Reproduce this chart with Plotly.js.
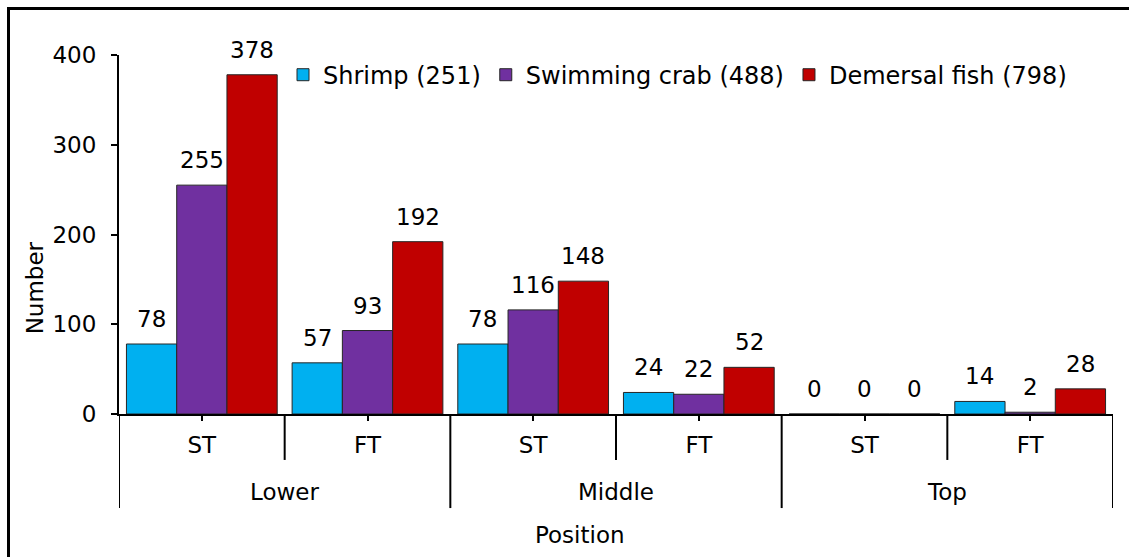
<!DOCTYPE html>
<html>
<head>
<meta charset="utf-8">
<script src="https://cdn.plot.ly/plotly-3.0.1.min.js"></script>
<style>
html,body{margin:0;padding:0;background:#fff;}
#chart{width:1129px;height:557px;}
#frame{position:absolute;left:7px;top:7px;width:1200px;height:600px;border:3px solid #000;pointer-events:none;}
</style>
</head>
<body>
<div id="chart"></div>
<div id="frame"></div>
<script>
const positions = ["Lower","Lower","Middle","Middle","Top","Top"];
const gears = ["ST","FT","ST","FT","ST","FT"];
const shrimp = [78,57,78,24,0,14];
const crab = [255,93,116,22,0,2];
const fish = [378,192,148,52,0,28];
const seriesNames = ["Shrimp (251)","Swimming crab (488)","Demersal fish (798)"];
const seriesColors = ["#00B0F0","#7030A0","#C00000"];
const yTicks = [0,100,200,300,400];
const xTitle = "Position";
const yTitle = "Number";

const FONT = "DejaVu Sans, Verdana, sans-serif";
const FS = 23;
const BARGAP = 0.09;
const idx = gears.map((_, k) => k);
const allVals = [shrimp, crab, fish];
const nSeries = allVals.length;
const barW = (1 - BARGAP) / nSeries;

const traces = allVals.map((vals, i) => ({
  type: "bar",
  name: seriesNames[i],
  x: idx,
  y: vals,
  marker: {color: seriesColors[i], line: {color: "#262626", width: 1}},
  hoverinfo: "skip"
}));

const annotations = [];
// value labels above each bar, placed through the axes
allVals.forEach((vals, i) => {
  const off = (i - (nSeries - 1) / 2) * barW;
  vals.forEach((v, k) => {
    annotations.push({xref: "x", yref: "y", x: k + off, y: v, text: String(v),
      showarrow: false, xanchor: "center", yanchor: "bottom", yshift: 10,
      font: {family: FONT, size: FS, color: "#000"}});
  });
});

// outer category labels and dividers
const shapes = [];
const groups = [];
positions.forEach((p, k) => {
  if (!groups.length || groups[groups.length - 1].name !== p) groups.push({name: p, start: k, end: k});
  else groups[groups.length - 1].end = k;
});
groups.forEach(g => {
  annotations.push({xref: "x", yref: "paper", x: (g.start + g.end) / 2, y: -0.217, text: g.name,
    showarrow: false, xanchor: "center", yanchor: "middle",
    font: {family: FONT, size: FS, color: "#000"}});
  shapes.push({type: "line", xref: "x", yref: "paper", x0: g.start - 0.5, x1: g.start - 0.5, y0: 0, y1: -0.262,
    line: {color: "#000", width: 2}});
  for (let k = g.start; k < g.end; k++) {
    shapes.push({type: "line", xref: "x", yref: "paper", x0: k + 0.5, x1: k + 0.5, y0: 0, y1: -0.128,
      line: {color: "#000", width: 2}});
  }
});
const last = groups[groups.length - 1];
shapes.push({type: "line", xref: "x", yref: "paper", x0: last.end + 0.5, x1: last.end + 0.5, y0: 0, y1: -0.262,
  line: {color: "#000", width: 2}});

// axis titles
annotations.push({xref: "paper", yref: "paper", x: 0.4638, y: -0.337, text: xTitle, showarrow: false,
  xanchor: "center", yanchor: "middle", font: {family: FONT, size: FS, color: "#000"}});
annotations.push({xref: "paper", yref: "paper", x: -0.0845, y: 0.35, text: yTitle, showarrow: false,
  textangle: -90, xanchor: "center", yanchor: "middle", font: {family: FONT, size: FS, color: "#000"}});

const layout = {
  width: 1129, height: 557,
  margin: {l: 119, r: 16, t: 55, b: 143},
  paper_bgcolor: "#fff", plot_bgcolor: "#fff",
  font: {family: FONT, size: FS, color: "#000"},
  barmode: "group",
  bargap: BARGAP,
  bargroupgap: 0,
  showlegend: true,
  legend: {orientation: "h", x: 0.165, xanchor: "left", y: 0.944, yanchor: "middle",
    font: {family: FONT, size: 24, color: "#000"}, bgcolor: "rgba(0,0,0,0)", traceorder: "normal",
    itemwidth: 30},
  xaxis: {
    range: [-0.5, gears.length - 0.5],
    tickvals: idx, ticktext: gears,
    showline: true, linecolor: "#000", linewidth: 2,
    ticks: "outside", ticklen: 5, tickcolor: "#000", tickwidth: 2,
    ticklabelstandoff: 4,
    tickfont: {family: FONT, size: FS, color: "#000"},
    showgrid: false, zeroline: false, fixedrange: true
  },
  yaxis: {
    range: [0, 400], tickvals: yTicks, ticktext: yTicks.map(String),
    showline: true, linecolor: "#000", linewidth: 2,
    ticks: "outside", ticklen: 6, tickcolor: "#000", tickwidth: 2,
    ticklabelstandoff: 10,
    showgrid: false, zeroline: false,
    tickfont: {family: FONT, size: FS, color: "#000"}
  },
  shapes: shapes,
  annotations: annotations
};

Plotly.newPlot("chart", traces, layout, {displayModeBar: false, staticPlot: true});
</script>
</body>
</html>
